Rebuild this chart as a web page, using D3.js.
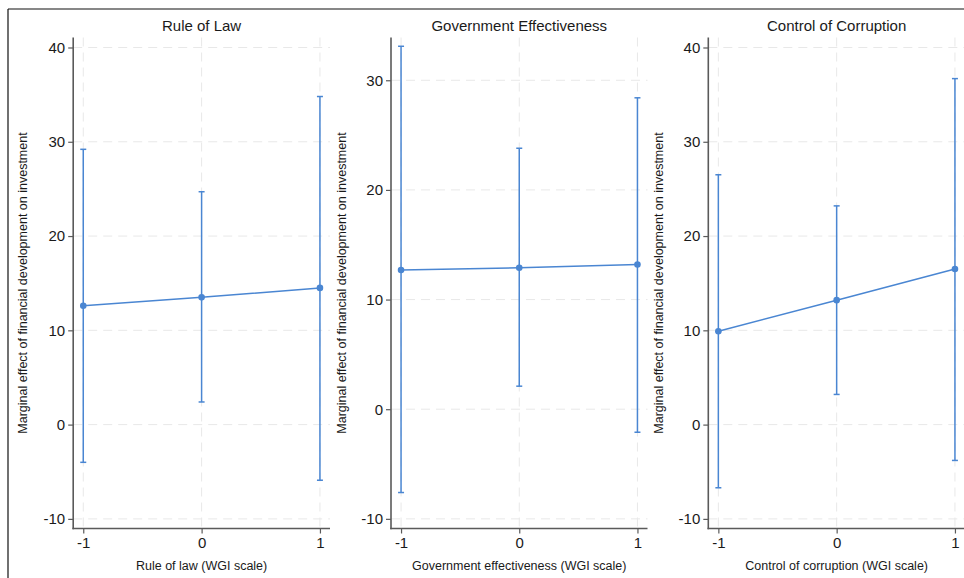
<!DOCTYPE html>
<html>
<head>
<meta charset="utf-8">
<script src="https://cdn.jsdelivr.net/npm/d3@7/dist/d3.min.js"></script>
<style>
  html, body { margin: 0; padding: 0; background: #fff; }
  svg { display: block; font-family: "Liberation Sans", Arial, Helvetica, sans-serif; }
</style>
</head>
<body>
<svg id="chart" width="964" height="578"></svg>
<script>
// ---- data ----
const categories = [-1, 0, 1];
const xTickLabels = ["-1", "0", "1"];

const panelTitles = ["Rule of Law", "Government Effectiveness", "Control of Corruption"];
const xAxisTitles = ["Rule of law (WGI scale)", "Government effectiveness (WGI scale)", "Control of corruption (WGI scale)"];
const yAxisTitle = "Marginal effect of financial development on investment";

const ruleEst = [12.6, 13.5, 14.5];
const ruleLo  = [-4.0, 2.4, -5.9];
const ruleHi  = [29.2, 24.7, 34.8];

const govEst = [12.7, 12.9, 13.2];
const govLo  = [-7.6, 2.1, -2.1];
const govHi  = [33.1, 23.8, 28.4];

const corEst = [9.9, 13.2, 16.5];
const corLo  = [-6.7, 3.2, -3.8];
const corHi  = [26.5, 23.2, 36.7];

const yTicksA = [-10, 0, 10, 20, 30, 40];
const yTicksB = [-10, 0, 10, 20, 30];
const yTickLabelsA = ["-10", "0", "10", "20", "30", "40"];
const yTickLabelsB = ["-10", "0", "10", "20", "30"];

// ---- layout ----
const svg = d3.select("#chart");
const blue = "#4a86d2";
const axisColor = "#5a5a5a";
const gridColor = "#e8e8e8";
const textColor = "#1a1a1a";

// outer frame (top + left only visible)
svg.append("line").attr("x1", 8).attr("x2", 964).attr("y1", 9).attr("y2", 9)
  .attr("stroke", "#111").attr("stroke-width", 1.2);
svg.append("line").attr("x1", 8).attr("x2", 8).attr("y1", 9).attr("y2", 578)
  .attr("stroke", "#111").attr("stroke-width", 1.2);

const panels = [
  { title: panelTitles[0], xt: xAxisTitles[0], est: ruleEst, lo: ruleLo, hi: ruleHi,
    x0: 73.2, x1: 330, ydom: [-11.02, 41.06], yticks: yTicksA, ylabels: yTickLabelsA, ylabX: 23 },
  { title: panelTitles[1], xt: xAxisTitles[1], est: govEst, lo: govLo, hi: govHi,
    x0: 391, x1: 647.5, ydom: [-10.88, 33.9], yticks: yTicksB, ylabels: yTickLabelsB, ylabX: 342 },
  { title: panelTitles[2], xt: xAxisTitles[2], est: corEst, lo: corLo, hi: corHi,
    x0: 708.3, x1: 965, ydom: [-11.02, 41.06], yticks: yTicksA, ylabels: yTickLabelsA, ylabX: 659 }
];

const plotTop = 37.5, plotBottom = 528.5;

panels.forEach(p => {
  const g = svg.append("g");
  const x = d3.scaleLinear().domain([-1.085, 1.085]).range([p.x0, p.x1]);
  const y = d3.scaleLinear().domain(p.ydom).range([plotBottom, plotTop]);

  // grid
  g.selectAll(".hg").data(p.yticks).enter().append("line")
    .attr("x1", p.x0).attr("x2", p.x1)
    .attr("y1", d => y(d)).attr("y2", d => y(d))
    .attr("stroke", gridColor).attr("stroke-width", 1).attr("stroke-dasharray", "9,6");
  g.selectAll(".vg").data(categories).enter().append("line")
    .attr("x1", d => x(d)).attr("x2", d => x(d))
    .attr("y1", plotTop).attr("y2", plotBottom)
    .attr("stroke", gridColor).attr("stroke-width", 1).attr("stroke-dasharray", "9,6");

  // axes
  const yAxis = d3.axisLeft(y).tickValues(p.yticks).tickSize(5).tickPadding(3)
    .tickFormat((d, i) => p.ylabels[i]);
  const ya = g.append("g").attr("transform", `translate(${p.x0},0)`).call(yAxis);
  const xAxis = d3.axisBottom(x).tickValues(categories).tickSize(5).tickPadding(4)
    .tickFormat((d, i) => xTickLabels[i]);
  const xa = g.append("g").attr("transform", `translate(0,${plotBottom})`).call(xAxis);
  [ya, xa].forEach(a => {
    a.select(".domain").remove();
    a.selectAll(".tick line").attr("stroke", axisColor).attr("stroke-width", 1.2);
    a.selectAll(".tick text").attr("fill", textColor).style("font-size", "15px")
      .style("font-family", "'Liberation Sans', Arial, sans-serif");
  });
  g.append("line").attr("x1", p.x0).attr("x2", p.x0).attr("y1", plotTop).attr("y2", plotBottom + 0.8)
    .attr("stroke", axisColor).attr("stroke-width", 1.6);
  g.append("line").attr("x1", p.x0 - 0.8).attr("x2", p.x1).attr("y1", plotBottom).attr("y2", plotBottom)
    .attr("stroke", axisColor).attr("stroke-width", 1.6);

  // error bars
  const capW = 3;
  categories.forEach((c, i) => {
    g.append("line").attr("x1", x(c)).attr("x2", x(c))
      .attr("y1", y(p.lo[i])).attr("y2", y(p.hi[i]))
      .attr("stroke", blue).attr("stroke-width", 1.5);
    [p.lo[i], p.hi[i]].forEach(v => {
      g.append("line").attr("x1", x(c) - capW).attr("x2", x(c) + capW)
        .attr("y1", y(v)).attr("y2", y(v))
        .attr("stroke", blue).attr("stroke-width", 1.5);
    });
  });

  // connecting line
  const line = d3.line().x((d, i) => x(categories[i])).y(d => y(d));
  g.append("path").datum(p.est).attr("d", line)
    .attr("fill", "none").attr("stroke", blue).attr("stroke-width", 1.5);

  // markers
  g.selectAll(".pt").data(p.est).enter().append("circle")
    .attr("cx", (d, i) => x(categories[i])).attr("cy", d => y(d)).attr("r", 3.3)
    .attr("fill", blue);

  // titles
  const cx = (x(-1) + x(1)) / 2;
  g.append("text").attr("x", cx).attr("y", 31).attr("text-anchor", "middle")
    .attr("fill", textColor).style("font-size", "15px").text(p.title);
  g.append("text").attr("x", cx).attr("y", 570).attr("text-anchor", "middle")
    .attr("fill", textColor).style("font-size", "12.5px").text(p.xt);
  g.append("text").attr("transform", `translate(${p.ylabX + 4},${(plotTop + plotBottom) / 2}) rotate(-90)`)
    .attr("text-anchor", "middle").attr("fill", textColor).style("font-size", "12.5px")
    .text(yAxisTitle);
});
</script>
</body>
</html>
